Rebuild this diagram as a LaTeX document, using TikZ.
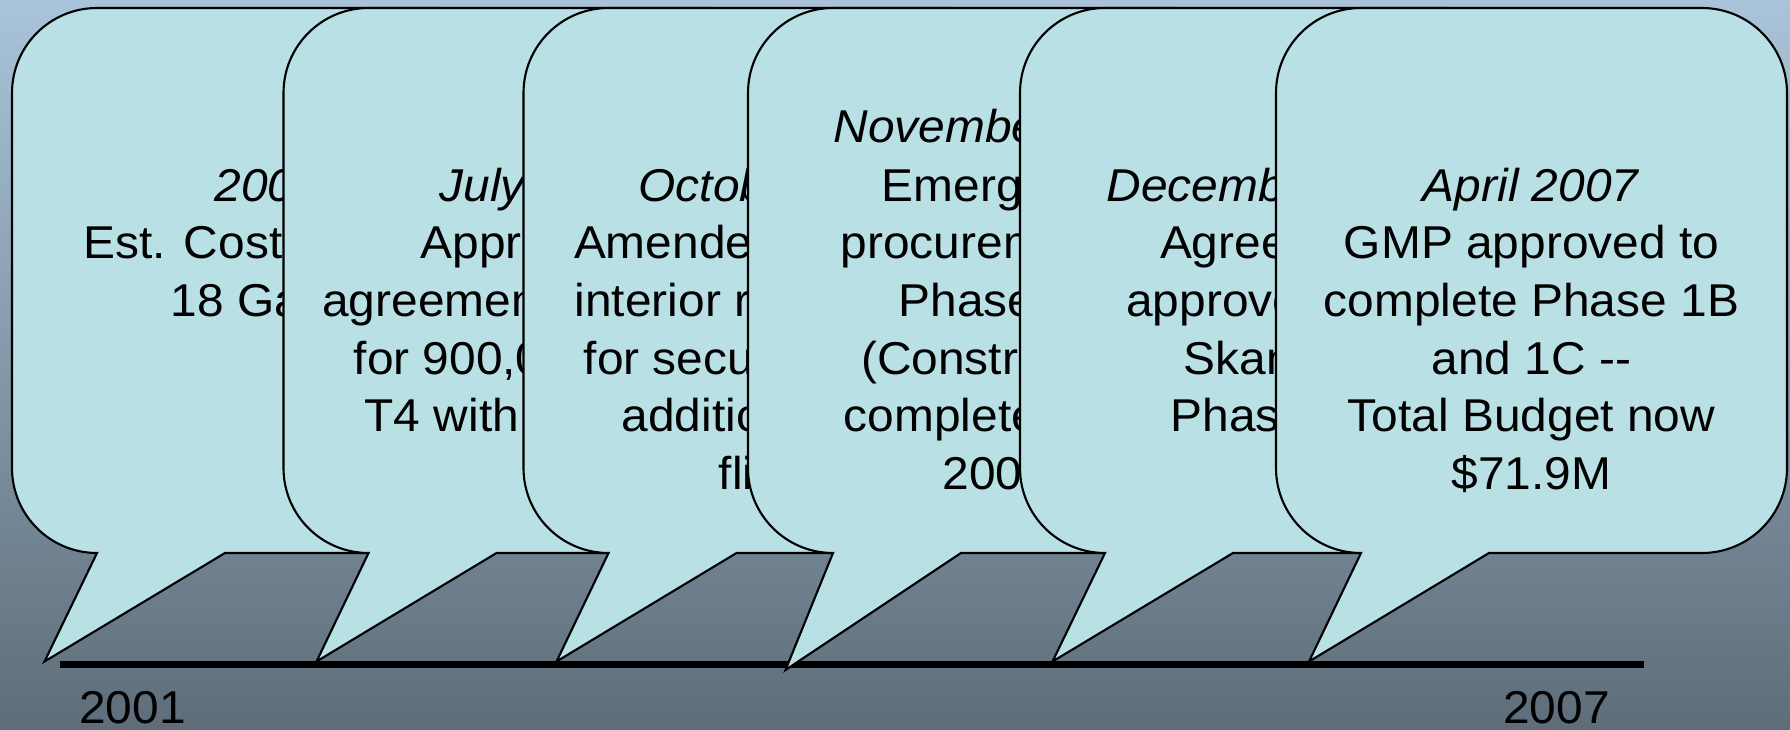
\documentclass[tikz,border=0pt]{standalone}
\usepackage{fontspec}
\setmainfont{Liberation Sans}[FakeStretch=1.04, Ligatures={NoCommon}]
\usepackage{tikz}
\usetikzlibrary{positioning}
\usepackage{xcolor}
\definecolor{bgtop}{HTML}{A9C4DA}
\definecolor{bgmid}{HTML}{7F919F}
\definecolor{bgbot}{HTML}{5E6D79}
\definecolor{balloonfill}{HTML}{B9E0E4}

% #1 left edge, #2/#3 tip of the tail
\newcommand{\drawballoon}[3]{%
  \draw[balloon] (#1+85,176) arc[start angle=270, end angle=180, radius=85]
    -- (#1,636) arc[start angle=180, end angle=90, radius=85]
    -- (#1+426,721) arc[start angle=90, end angle=0, radius=85]
    -- (#1+511,261) arc[start angle=0, end angle=-90, radius=85]
    -- (#1+213,176) -- (#2,#3) -- cycle;}

\begin{document}
\begin{tikzpicture}[
  x=0.01cm, y=0.01cm,
  balloon/.style={draw=black, line width=0.6pt, fill=balloonfill},
  txt/.style={font=\fontsize{13.09}{16}\selectfont, inner sep=0pt, anchor=base west},
  ctxt/.style={txt, anchor=base}
]
  \useasboundingbox (0,0) rectangle (1790,729);
  \shade[top color=bgtop, middle color=bgmid, bottom color=bgbot] (0,0) rectangle (1790,729);

  % Timeline
  \coordinate (start) at (60,64.5);
  \coordinate (end) at (1644,64.5);
  \draw[line width=0.07cm] (start) -- (end);

  % 2001
  \drawballoon{12}{44.5}{67.5}
  \node[txt] (b1-1) at (214,528) {\textit{200}};
  \node[txt] (b1-2) at (83,470.3) {Est. Cost};
  \node[txt] (b1-3) at (170,412.6) {18 Ga};

  % July
  \drawballoon{283.5}{316.5}{67.5}
  \node[txt] (b2-1) at (439,528) {\textit{July}};
  \node[txt] (b2-2) at (420,470.3) {Appr};
  \node[txt] (b2-3) at (321.5,412.6) {agreemen};
  \node[txt] (b2-4) at (353,354.9) {for 900,0};
  \node[txt] (b2-5) at (364,297.2) {T4 with};

  % October
  \drawballoon{523.5}{556.5}{67.5}
  \node[txt] (b3-1) at (638,528) {\textit{Octob}};
  \node[txt] (b3-2) at (573.3,470.3) {Amende};
  \node[txt] (b3-3) at (574,412.6) {interior r};
  \node[txt] (b3-4) at (583,354.9) {for secu};
  \node[txt] (b3-5) at (621,297.2) {additio};
  \node[txt] (b3-6) at (718,239.5) {f{}l{}i};

  % November
  \drawballoon{748}{785.5}{59}
  \node[txt] (b4-0) at (833,586.5) {\textit{Novembe}};
  \node[txt] (b4-1) at (881,528) {Emerg};
  \node[txt] (b4-2) at (840,470.3) {procurem};
  \node[txt] (b4-3) at (898,412.6) {Phase};
  \node[txt] (b4-4) at (860.5,354.9) {(Constr};
  \node[txt] (b4-5) at (843,297.2) {complete};
  \node[txt] (b4-6) at (942,239.5) {200};

  % December
  \drawballoon{1020}{1052.5}{67.5}
  \node[txt] (b5-1) at (1106,528) {\textit{Decemb}};
  \node[txt] (b5-2) at (1159.3,470.3) {Agree};
  \node[txt] (b5-3) at (1125.5,412.6) {approve};
  \node[txt] (b5-4) at (1183,354.9) {Skan};
  \node[txt] (b5-5) at (1170,297.2) {Phas};

  % April 2007
  \drawballoon{1276}{1309}{67.5}
  \node[ctxt] (b6-1) at (1531.5,528) {\textit{April 2007}};
  \node[ctxt] (b6-2) at (1531.5,470.3) {GMP approved to};
  \node[ctxt] (b6-3) at (1531.5,412.6) {complete Phase 1B};
  \node[ctxt] (b6-4) at (1531.5,354.9) {and 1C -{}-};
  \node[ctxt] (b6-5) at (1531.5,297.2) {Total Budget now};
  \node[ctxt] (b6-6) at (1531.5,239.5) {\$71.9M};

  % Years
  \node[txt] (first) at (78.6,6) {2001};
  \node[txt] (last) at (1502.6,6) {2007};
\end{tikzpicture}
\end{document}
